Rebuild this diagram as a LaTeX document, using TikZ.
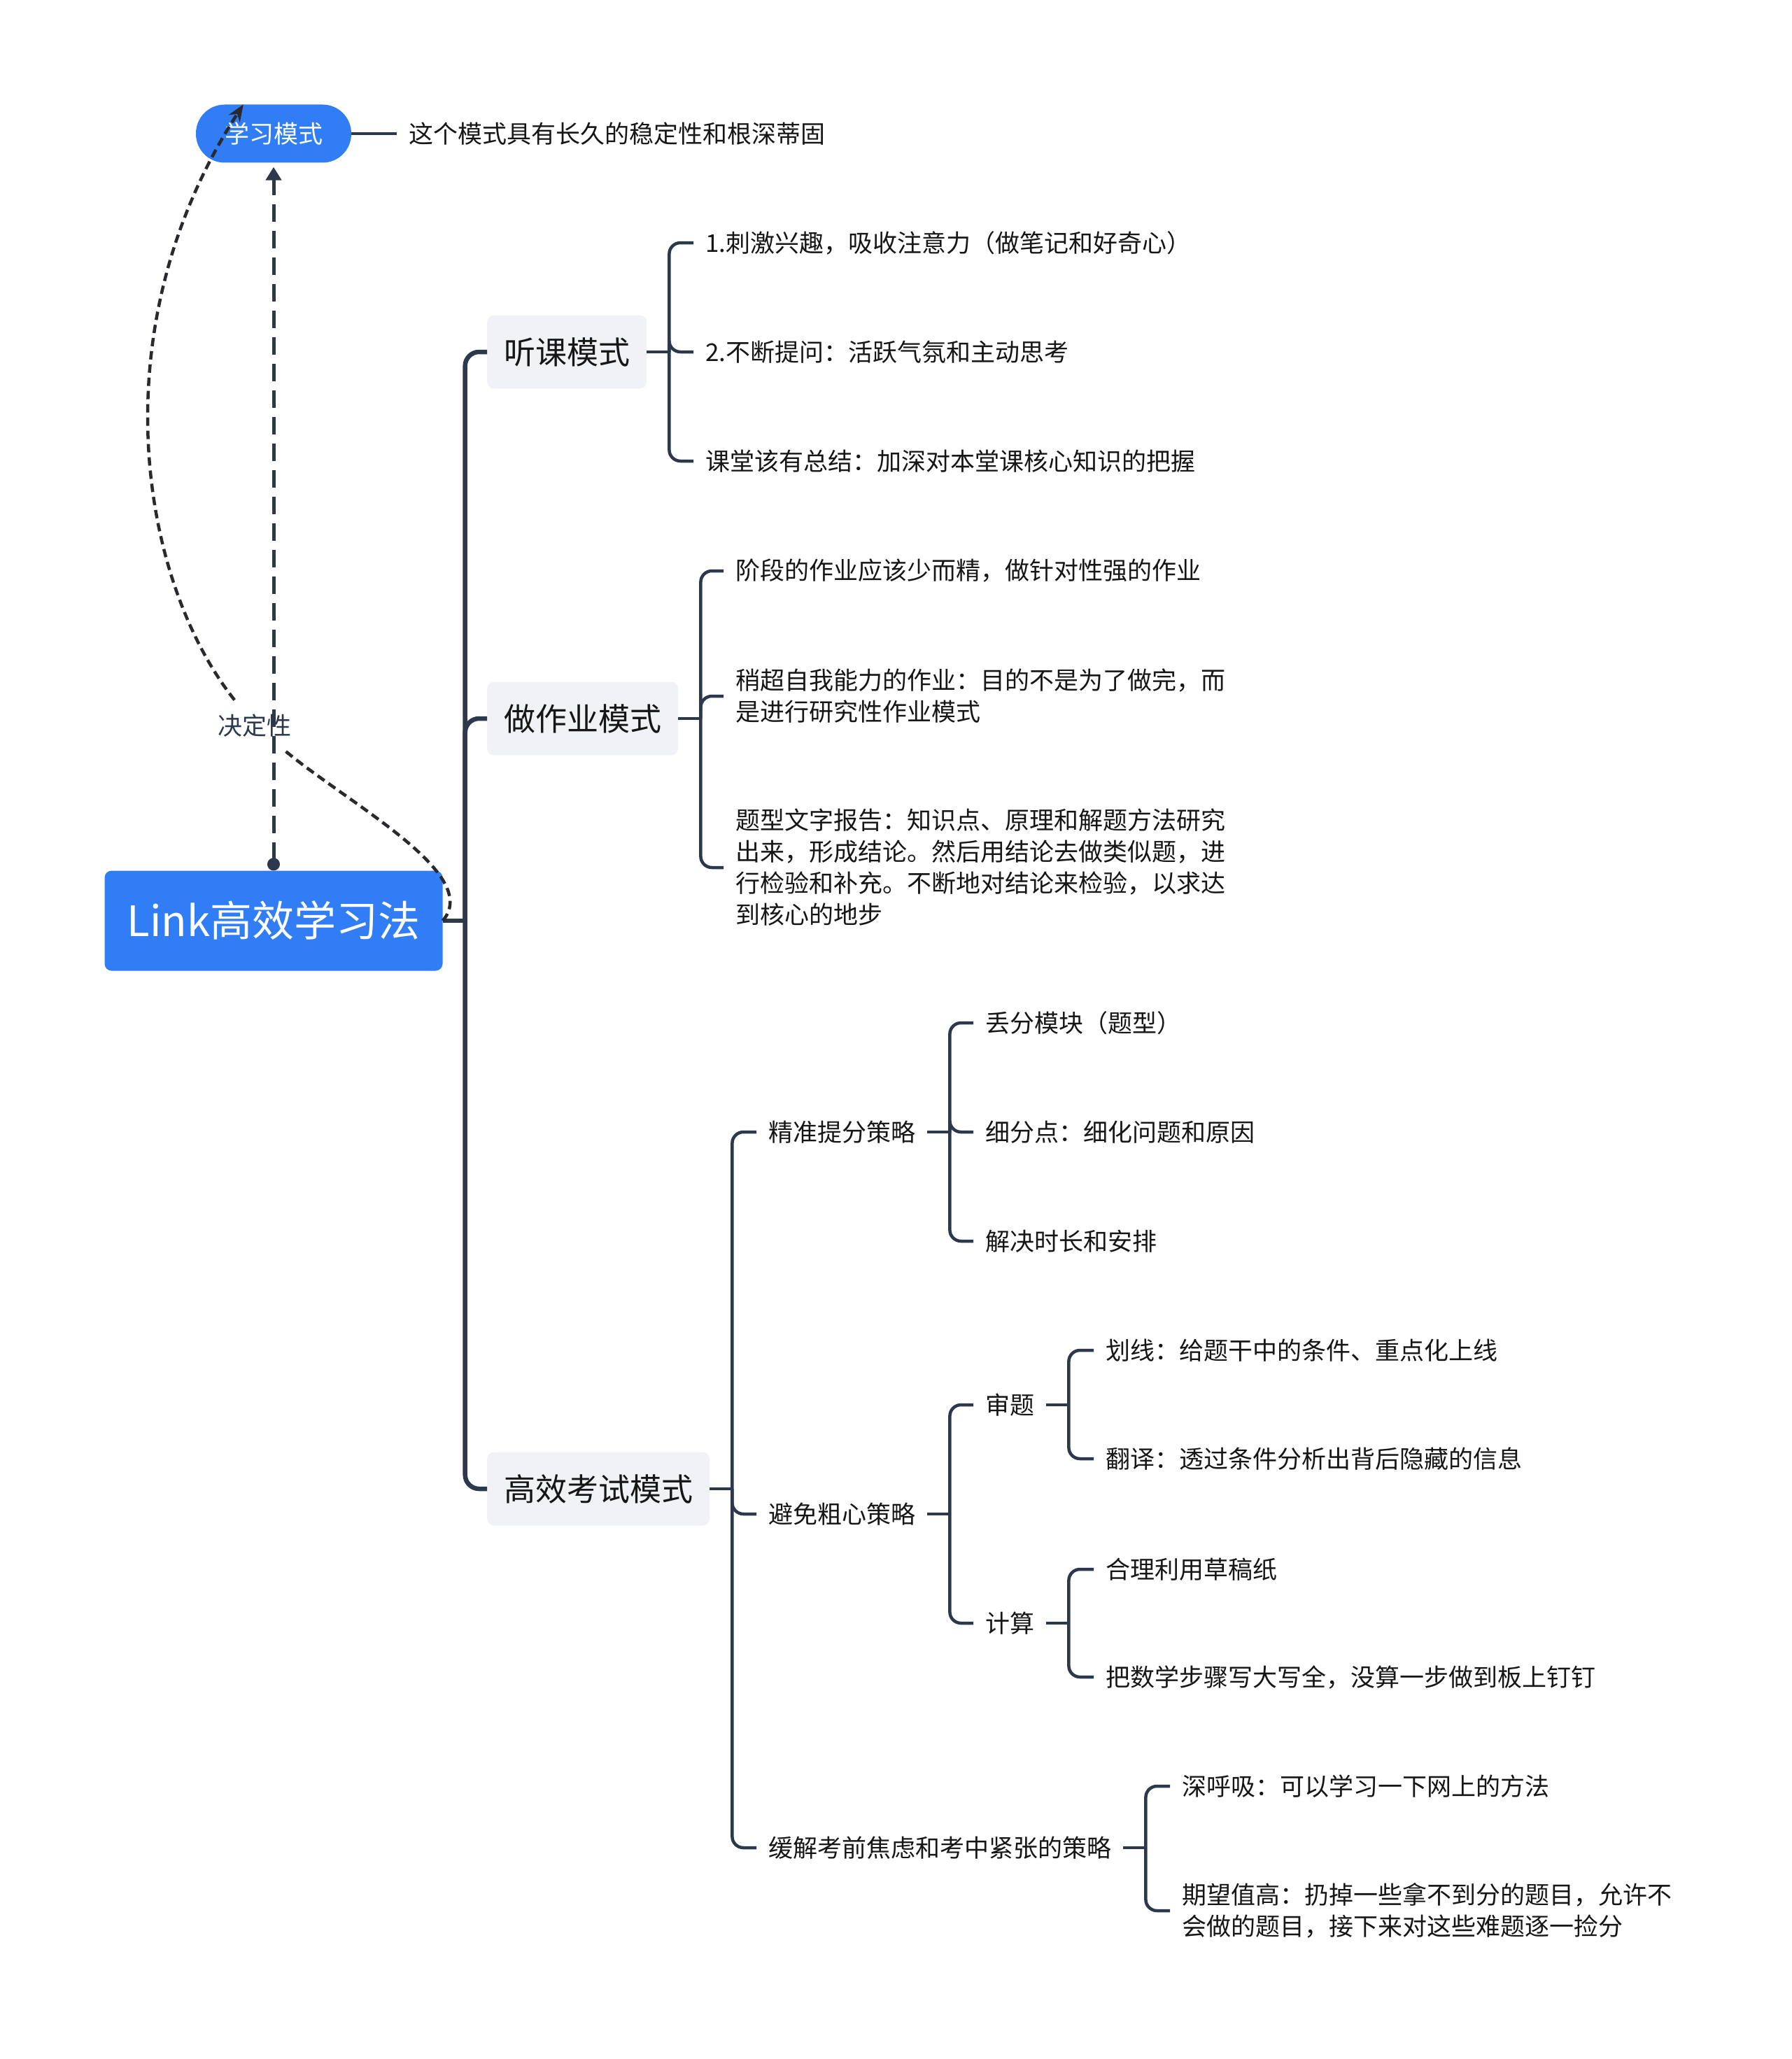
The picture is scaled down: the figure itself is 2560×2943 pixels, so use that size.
\documentclass[tikz,border=0pt]{standalone}
\usepackage{fontspec}
\setmainfont{Noto Sans CJK SC}
\usepackage{tikz}
\usetikzlibrary{arrows.meta}
\definecolor{xxblue}{RGB}{48,125,246}
\definecolor{xxgray}{RGB}{240,242,245}
\definecolor{xxline}{RGB}{44,57,76}
\definecolor{xxdark}{RGB}{42,42,46}
\definecolor{xxtext}{RGB}{22,22,22}
\tikzset{
  xxroot/.style={fill=xxblue, text=white, rounded corners=10pt,
    minimum width=483pt, minimum height=143pt, font=\fontsize{60}{72}\selectfont},
  xxpill/.style={fill=xxblue, text=white, rounded corners=41pt,
    minimum width=222pt, minimum height=83pt, font=\fontsize{35}{45}\selectfont},
  xxmain/.style={fill=xxgray, text=xxtext, rounded corners=10pt, anchor=west,
    inner xsep=24pt, minimum height=105pt, font=\fontsize{45}{54}\selectfont},
  xxleaf/.style={text=xxtext, anchor=west, align=left, inner xsep=17pt,
    inner ysep=4pt, font=\fontsize{35}{45}\selectfont},
  xxlbl/.style={text=xxline, inner sep=20pt, font=\fontsize{35}{45}\selectfont},
  xxtrunk/.style={draw=xxline, line width=6.5pt, rounded corners=20pt},
  xxlink/.style={draw=xxline, line width=4.5pt, rounded corners=16pt},
  xxrel/.style={draw=xxdark, line width=4.5pt, dash pattern=on 12pt off 7pt},
  xxtip/.style={-{Stealth[length=24pt,width=19pt]}}
}
\begin{document}
\begin{tikzpicture}
  \useasboundingbox (0pt,0pt) rectangle (2560pt,-2943pt);
  % root, floating topic and its note
  \node[xxroot] (mR) at (391pt,-1316pt) {Link高效学习法};
  \node[xxpill] (mM) at (391pt,-191pt) {学习模式};
  \node[xxleaf] (mN) at (567pt,-191pt) {这个模式具有长久的稳定性和根深蒂固};
  \node[xxlbl] (mL) at (364pt,-1037pt) {决定性};
  % main topics
  \node[xxmain] (mT) at (696pt,-503pt) {听课模式};
  \node[xxmain] (mZ) at (696pt,-1027pt) {做作业模式};
  \node[xxmain] (mG) at (696pt,-2128pt) {高效考试模式};
  % listening
  \node[xxleaf] (mT1) at (991pt,-347pt) {1.刺激兴趣，吸收注意力（做笔记和好奇心）};
  \node[xxleaf] (mT2) at (991pt,-503pt) {2.不断提问：活跃气氛和主动思考};
  \node[xxleaf] (mT3) at (991pt,-659pt) {课堂该有总结：加深对本堂课核心知识的把握};
  % homework
  \node[xxleaf] (mZ1) at (1034pt,-816pt) {阶段的作业应该少而精，做针对性强的作业};
  \node[xxleaf] (mZ2) at (1034pt,-995pt) {稍超自我能力的作业：目的不是为了做完，而\\是进行研究性作业模式};
  \node[xxleaf] (mZ3) at (1034pt,-1240pt) {题型文字报告：知识点、原理和解题方法研究\\出来，形成结论。然后用结论去做类似题，进\\行检验和补充。不断地对结论来检验，以求达\\到核心的地步};
  % exams
  \node[xxleaf] (mG1) at (1081pt,-1618pt) {精准提分策略};
  \node[xxleaf] (mG2) at (1081pt,-2164pt) {避免粗心策略};
  \node[xxleaf] (mG3) at (1081pt,-2641pt) {缓解考前焦虑和考中紧张的策略};
  \node[xxleaf] (mG11) at (1391pt,-1462pt) {丢分模块（题型）};
  \node[xxleaf] (mG12) at (1391pt,-1618pt) {细分点：细化问题和原因};
  \node[xxleaf] (mG13) at (1391pt,-1774pt) {解决时长和安排};
  \node[xxleaf] (mG21) at (1391pt,-2008pt) {审题};
  \node[xxleaf] (mG22) at (1391pt,-2320pt) {计算};
  \node[xxleaf] (mG211) at (1563pt,-1930pt) {划线：给题干中的条件、重点化上线};
  \node[xxleaf] (mG212) at (1563pt,-2085pt) {翻译：透过条件分析出背后隐藏的信息};
  \node[xxleaf] (mG221) at (1563pt,-2243pt) {合理利用草稿纸};
  \node[xxleaf] (mG222) at (1563pt,-2397pt) {把数学步骤写大写全，没算一步做到板上钉钉};
  \node[xxleaf] (mG31) at (1672pt,-2553pt) {深呼吸：可以学习一下网上的方法};
  \node[xxleaf] (mG32) at (1672pt,-2731pt) {期望值高：扔掉一些拿不到分的题目，允许不\\会做的题目，接下来对这些难题逐一捡分};

  % connectors
  \draw[xxlink] (mM.east) -- (mN.west);
  \draw[xxtrunk] (mR.east) -- ++(32pt,0pt) coordinate (mRj);
  \draw[xxtrunk] (mRj) |- (mT.west);
  \draw[xxtrunk] (mRj) |- (mZ.west);
  \draw[xxtrunk] (mRj) |- (mG.west);
  \draw[xxlink] (mT.east) -- ++(32pt,0pt) coordinate (mTj);
  \draw[xxlink] (mTj) |- (mT1.west);
  \draw[xxlink] (mTj) |- (mT2.west);
  \draw[xxlink] (mTj) |- (mT3.west);
  \draw[xxlink] (mZ.east) -- ++(32pt,0pt) coordinate (mZj);
  \draw[xxlink] (mZj) |- (mZ1.west);
  \draw[xxlink] (mZj) |- (mZ2.west);
  \draw[xxlink] (mZj) |- (mZ3.west);
  \draw[xxlink] (mG.east) -- ++(32pt,0pt) coordinate (mGj);
  \draw[xxlink] (mGj) |- (mG1.west);
  \draw[xxlink] (mGj) |- (mG2.west);
  \draw[xxlink] (mGj) |- (mG3.west);
  \draw[xxlink] (mG1.east) -- ++(32pt,0pt) coordinate (mG1j);
  \draw[xxlink] (mG1j) |- (mG11.west);
  \draw[xxlink] (mG1j) |- (mG12.west);
  \draw[xxlink] (mG1j) |- (mG13.west);
  \draw[xxlink] (mG2.east) -- ++(32pt,0pt) coordinate (mG2j);
  \draw[xxlink] (mG2j) |- (mG21.west);
  \draw[xxlink] (mG2j) |- (mG22.west);
  \draw[xxlink] (mG21.east) -- ++(32pt,0pt) coordinate (mG21j);
  \draw[xxlink] (mG21j) |- (mG211.west);
  \draw[xxlink] (mG21j) |- (mG212.west);
  \draw[xxlink] (mG22.east) -- ++(32pt,0pt) coordinate (mG22j);
  \draw[xxlink] (mG22j) |- (mG221.west);
  \draw[xxlink] (mG22j) |- (mG222.west);
  \draw[xxlink] (mG3.east) -- ++(32pt,0pt) coordinate (mG3j);
  \draw[xxlink] (mG3j) |- (mG31.west);
  \draw[xxlink] (mG3j) |- (mG32.west);

  % relationship lines
  \draw[xxrel] (mR.east) .. controls (690pt,-1250pt) and (500pt,-1150pt) .. (mL);
  \draw[xxrel,xxtip] (mL) .. controls (200pt,-830pt) and (140pt,-470pt) .. (mM.136);
  \draw[draw=xxline, line width=5pt, dash pattern=on 25pt off 13pt, shorten >=6pt,
    {Circle[length=18pt]}-{Triangle[length=19pt,width=22pt]}] (mR.north) -- (mM.south);
\end{tikzpicture}
\end{document}
